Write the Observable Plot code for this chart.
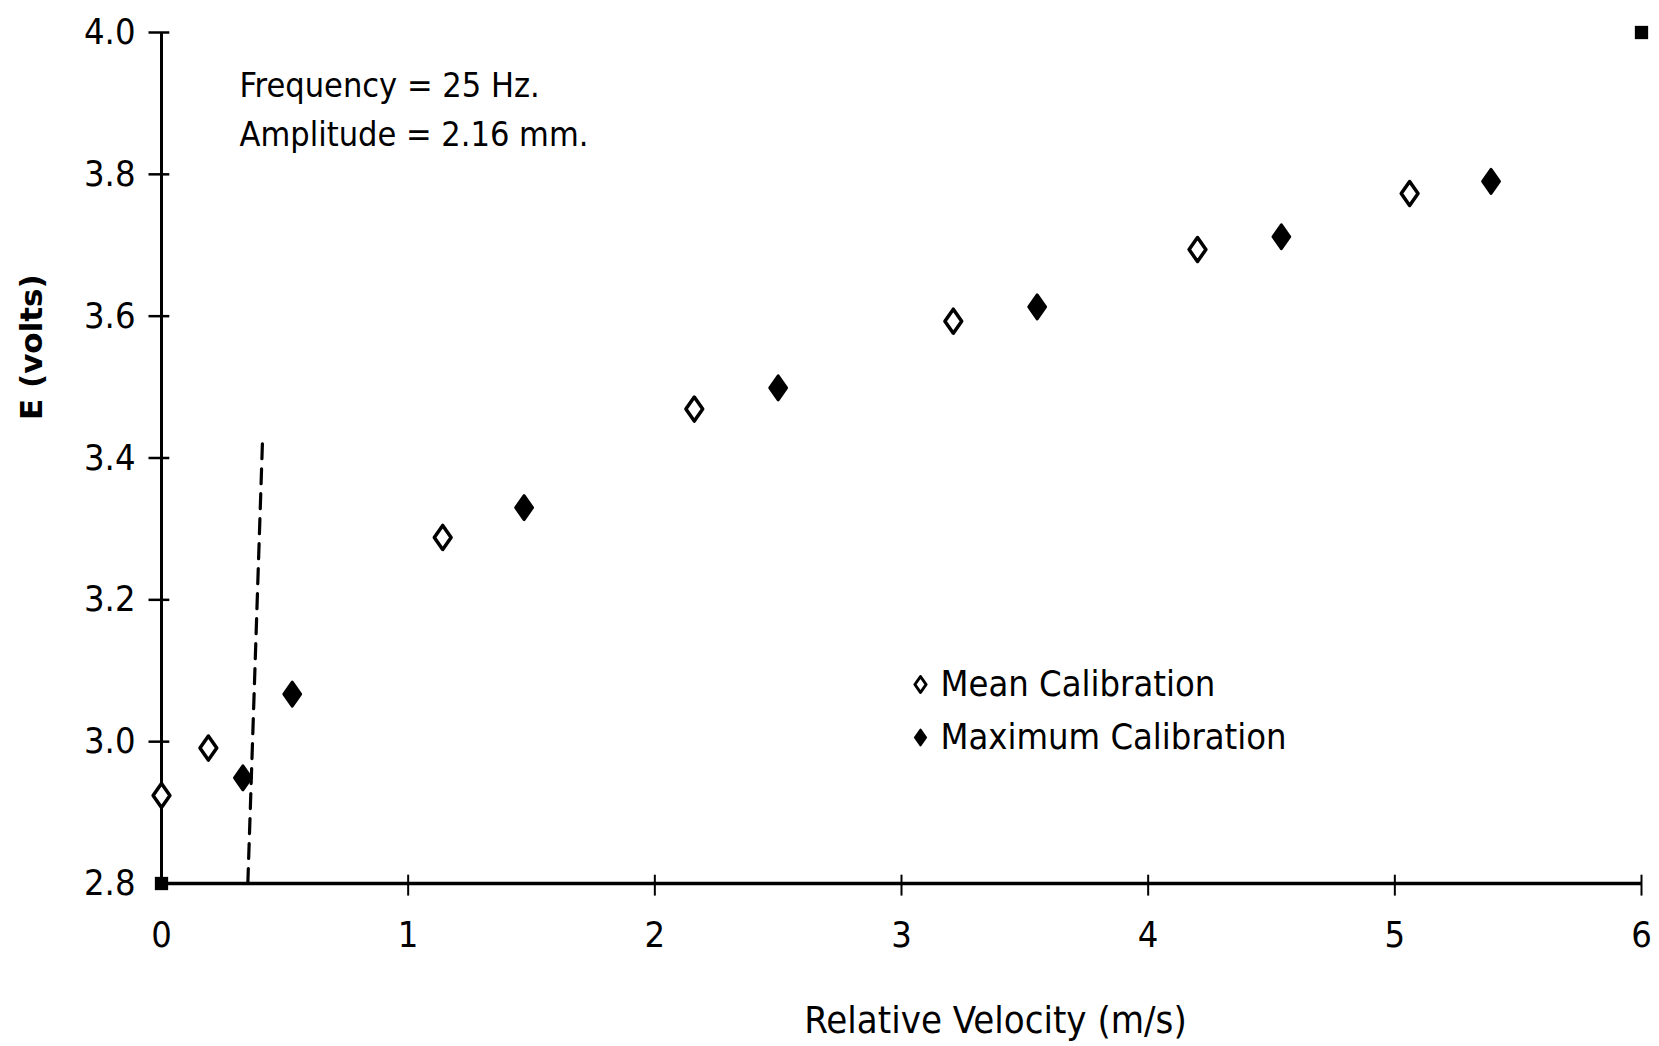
<!DOCTYPE html>
<html>
<head>
<meta charset="utf-8">
<script src="https://cdn.jsdelivr.net/npm/d3@7"></script>
<script src="https://cdn.jsdelivr.net/npm/@observablehq/plot@0.6"></script>
<style>
  html, body { margin: 0; padding: 0; background: #fff; }
  #chart svg { display: block; }
</style>
</head>
<body>
<div id="chart"></div>
<script>
// ---- data ----
const meanVelocity = [0, 0.19, 1.14, 2.16, 3.21, 4.20, 5.06];
const meanE        = [2.924, 2.991, 3.288, 3.469, 3.593, 3.694, 3.773];
const maxVelocity  = [0.33, 0.53, 1.47, 2.50, 3.55, 4.54, 5.39];
const maxE         = [2.949, 3.067, 3.330, 3.499, 3.613, 3.712, 3.790];
const dashedLineV  = [0.35, 0.41];
const dashedLineE  = [2.80, 3.43];
const cornerV      = [0, 6];
const cornerE      = [2.8, 4.0];
const xTicks       = [0, 1, 2, 3, 4, 5, 6];
const yTicks       = [2.8, 3.0, 3.2, 3.4, 3.6, 3.8, 4.0];
const xLabel       = "Relative Velocity (m/s)";
const yLabel       = "E (volts)";
const noteText     = "Frequency = 25 Hz.\nAmplitude = 2.16 mm.";
const legendLabels = ["Mean Calibration", "Maximum Calibration"];

const meanData = meanVelocity.map((v, i) => ({v, e: meanE[i]}));
const maxData  = maxVelocity.map((v, i) => ({v, e: maxE[i]}));
const dashData = dashedLineV.map((v, i) => ({v, e: dashedLineE[i]}));
const cornerData = cornerV.map((v, i) => ({v, e: cornerE[i]}));

const FONT = "'DejaVu Sans Condensed', 'Liberation Sans Narrow', 'DejaVu Sans', sans-serif";

// custom symbols
const diamond = {
  draw(ctx, size) {
    const r = Math.sqrt(size / Math.PI);
    const w = r * 0.7;
    ctx.moveTo(0, -r); ctx.lineTo(w, 0); ctx.lineTo(0, r); ctx.lineTo(-w, 0); ctx.closePath();
  }
};
const vTick = {
  draw(ctx, size) {
    const r = Math.sqrt(size / Math.PI);
    ctx.moveTo(0, -r * 0.8); ctx.lineTo(0, r * 1.1);
  }
};
const hTick = {
  draw(ctx, size) {
    const r = Math.sqrt(size / Math.PI);
    ctx.moveTo(-r, 0); ctx.lineTo(r * 0.6, 0);
  }
};

const chart = Plot.plot({
  width: 1659,
  height: 1046,
  marginLeft: 161,
  marginRight: 18,
  marginTop: 32,
  marginBottom: 163,
  style: {fontFamily: FONT, background: "#fff", color: "#000"},
  x: {domain: [0, 6]},
  y: {domain: [2.8, 4.0]},
  marks: [
    // axis lines
    Plot.ruleX([0], {stroke: "#000", strokeWidth: 3}),
    Plot.ruleY([2.8], {stroke: "#000", strokeWidth: 3.5}),
    // tick labels
    Plot.axisX({ticks: xTicks, tickSize: 0, tickPadding: 38, fontSize: 36, label: null, tickFormat: d3.format("d")}),
    Plot.axisY({ticks: yTicks, tickSize: 0, tickPadding: 26, fontSize: 36, label: null, tickFormat: d3.format(".1f")}),
    // tick marks crossing the axes
    Plot.dot(xTicks.filter(d => d > 0), {x: d => d, y: () => 2.8, symbol: vTick, r: 11, stroke: "#000", strokeWidth: 2}),
    Plot.dot(yTicks.filter(d => d > 2.8), {x: () => 0, y: d => d, symbol: hTick, r: 13, stroke: "#000", strokeWidth: 2.5}),
    // axis titles
    Plot.text([xLabel], {frameAnchor: "bottom", dx: 94, dy: 149, text: d => d, fontSize: 38, letterSpacing: 1.8, fill: "#000"}),
    Plot.text([yLabel], {frameAnchor: "left", dx: -129, dy: -38, rotate: -90, text: d => d, fontSize: 31, fontWeight: "bold", fill: "#000", fontFamily: "'DejaVu Sans', sans-serif"}),
    // dashed line
    Plot.line(dashData, {x: "v", y: "e", stroke: "#000", strokeWidth: 3.2, strokeDasharray: "15,10"}),
    // corner squares
    Plot.dot(cornerData, {x: "v", y: "e", symbol: "square", r: 7.5, fill: "#000"}),
    // data
    Plot.dot(meanData, {x: "v", y: "e", symbol: diamond, r: 12, fill: "#fff", stroke: "#000", strokeWidth: 3.5, strokeLinejoin: "round"}),
    Plot.dot(maxData, {x: "v", y: "e", symbol: diamond, r: 12, fill: "#000", stroke: "#000", strokeWidth: 3, strokeLinejoin: "round"}),
    // annotation
    Plot.text([noteText], {frameAnchor: "top-left", dx: 78, dy: 29, text: d => d, textAnchor: "start", lineAnchor: "top", lineHeight: 1.45, fontSize: 34, letterSpacing: 0.8, fill: "#000"}),
    // legend
    Plot.dot([legendLabels[0]], {frameAnchor: "top-left", dx: 759, dy: 652, symbol: diamond, r: 8, fill: "#fff", stroke: "#000", strokeWidth: 3, strokeLinejoin: "round"}),
    Plot.dot([legendLabels[1]], {frameAnchor: "top-left", dx: 759, dy: 705, symbol: diamond, r: 8, fill: "#000", stroke: "#000", strokeWidth: 2, strokeLinejoin: "round"}),
    Plot.text([legendLabels[0]], {frameAnchor: "top-left", dx: 779, dy: 652, text: d => d, textAnchor: "start", lineAnchor: "middle", fontSize: 36, letterSpacing: 1, fill: "#000"}),
    Plot.text([legendLabels[1]], {frameAnchor: "top-left", dx: 779, dy: 705, text: d => d, textAnchor: "start", lineAnchor: "middle", fontSize: 36, letterSpacing: 1, fill: "#000"})
  ]
});
document.getElementById("chart").append(chart);
</script>
</body>
</html>
